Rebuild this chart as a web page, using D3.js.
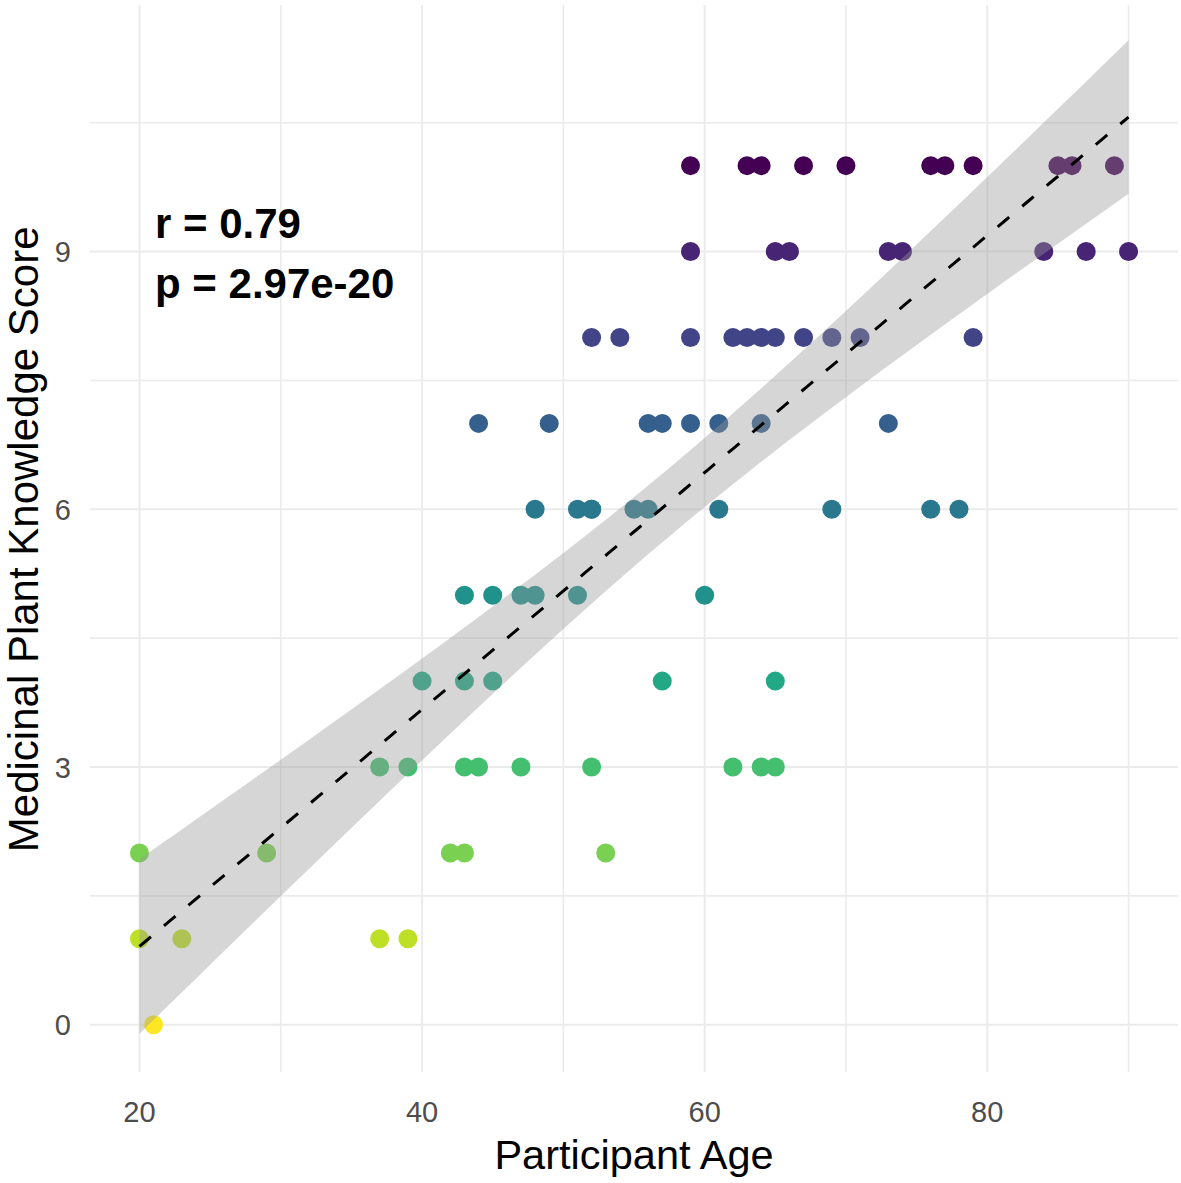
<!DOCTYPE html>
<html>
<head>
<meta charset="utf-8">
<script src="https://cdn.jsdelivr.net/npm/d3@7"></script>
<style>
  body { margin: 0; background: #fff; }
  text { font-family: "Liberation Sans", Arial, sans-serif; }
</style>
</head>
<body>
<script>
// Participant ages, grouped by knowledge score
var score10 = [59, 63, 64, 67, 70, 76, 77, 79, 85, 86, 89];
var score9 = [59, 65, 66, 73, 74, 84, 87, 90];
var score8 = [52, 54, 59, 62, 63, 64, 65, 67, 69, 71, 79];
var score7 = [44, 49, 56, 57, 59, 61, 64, 73];
var score6 = [48, 51, 52, 52, 55, 56, 61, 69, 76, 78];
var score5 = [43, 45, 47, 48, 51, 60];
var score4 = [40, 43, 45, 57, 65];
var score3 = [37, 39, 43, 44, 47, 52, 62, 64, 65];
var score2 = [20, 29, 42, 43, 53];
var score1 = [20, 23, 37, 39];
var score0 = [21];

var scoreLevels = [10, 9, 8, 7, 6, 5, 4, 3, 2, 1, 0];
var agesByLevel = [score10, score9, score8, score7, score6, score5, score4, score3, score2, score1, score0];

var xTicks = [20, 40, 60, 80];
var xMinor = [30, 50, 70, 90];
var yTicks = [0, 3, 6, 9];
var yMinor = [1.5, 4.5, 7.5, 10.5];

var statsLines = ["r = 0.79", "p = 2.97e-20"];
var tCrit = 1.99; // 95% t quantile, df = n - 2

var width = 1181,
    height = 1183;

var svg = d3.select("body")
    .append("svg")
    .attr("width", width)
    .attr("height", height);

// flatten to points
var points = [];
scoreLevels.forEach(function(s, i) {
    agesByLevel[i].forEach(function(a) { points.push({age: a, score: s}); });
});

var x = d3.scaleLinear()
    .domain([16.5, 93.5])
    .range([90, 1178]);

var y = d3.scaleLinear()
    .domain([-0.55, 11.87])
    .range([1072, 5]);

var color = d3.scaleSequential(d3.interpolateViridis)
    .domain([10, 0]);

// grid
var grid = svg.append("g");
grid.selectAll(".xmin").data(xMinor).enter().append("line")
    .attr("x1", function(d) { return x(d); })
    .attr("x2", function(d) { return x(d); })
    .attr("y1", y.range()[1]).attr("y2", y.range()[0])
    .attr("stroke", "#ebebeb").attr("stroke-width", 1.6);
grid.selectAll(".ymin").data(yMinor).enter().append("line")
    .attr("y1", function(d) { return y(d); })
    .attr("y2", function(d) { return y(d); })
    .attr("x1", x.range()[0]).attr("x2", x.range()[1])
    .attr("stroke", "#ebebeb").attr("stroke-width", 1.6);
grid.selectAll(".xmaj").data(xTicks).enter().append("line")
    .attr("x1", function(d) { return x(d); })
    .attr("x2", function(d) { return x(d); })
    .attr("y1", y.range()[1]).attr("y2", y.range()[0])
    .attr("stroke", "#ebebeb").attr("stroke-width", 2);
grid.selectAll(".ymaj").data(yTicks).enter().append("line")
    .attr("y1", function(d) { return y(d); })
    .attr("y2", function(d) { return y(d); })
    .attr("x1", x.range()[0]).attr("x2", x.range()[1])
    .attr("stroke", "#ebebeb").attr("stroke-width", 2);

// points
svg.append("g")
    .selectAll("circle")
    .data(points)
    .enter().append("circle")
        .attr("cx", function(d) { return x(d.age); })
        .attr("cy", function(d) { return y(d.score); })
        .attr("r", 9.5)
        .attr("fill", function(d) { return color(d.score); });

// linear fit + 95% confidence band
var n = points.length,
    xbar = d3.mean(points, function(d) { return d.age; }),
    ybar = d3.mean(points, function(d) { return d.score; }),
    sxx = d3.sum(points, function(d) { return (d.age - xbar) * (d.age - xbar); }),
    sxy = d3.sum(points, function(d) { return (d.age - xbar) * (d.score - ybar); }),
    slope = sxy / sxx,
    icpt = ybar - slope * xbar,
    sse = d3.sum(points, function(d) { var r = d.score - (icpt + slope * d.age); return r * r; }),
    sigma = Math.sqrt(sse / (n - 2));

var xExt = d3.extent(points, function(d) { return d.age; });
var fit = d3.range(0, 81).map(function(i) {
    var xv = xExt[0] + (xExt[1] - xExt[0]) * i / 80;
    var yv = icpt + slope * xv;
    var se = sigma * Math.sqrt(1 / n + (xv - xbar) * (xv - xbar) / sxx);
    return {x: xv, y: yv, lo: yv - tCrit * se, hi: yv + tCrit * se};
});

svg.append("path")
    .datum(fit)
    .attr("fill", "#999999")
    .attr("fill-opacity", 0.4)
    .attr("d", d3.area()
        .x(function(d) { return x(d.x); })
        .y0(function(d) { return y(d.lo); })
        .y1(function(d) { return y(d.hi); }));

svg.append("path")
    .datum(fit)
    .attr("fill", "none")
    .attr("stroke", "#000")
    .attr("stroke-width", 3)
    .attr("stroke-dasharray", "15,17")
    .attr("d", d3.line()
        .x(function(d) { return x(d.x); })
        .y(function(d) { return y(d.y); }));

// r / p annotation
svg.append("g").selectAll("text")
    .data(statsLines)
    .enter().append("text")
        .attr("x", 155)
        .attr("y", function(d, i) { return 238 + i * 60; })
        .attr("font-size", 42)
        .attr("font-weight", "bold")
        .attr("fill", "#000")
        .text(function(d) { return d; });

// tick labels
svg.append("g").selectAll("text")
    .data(xTicks)
    .enter().append("text")
        .attr("x", function(d) { return x(d); })
        .attr("y", 1122)
        .attr("text-anchor", "middle")
        .attr("font-size", 29)
        .attr("fill", "#4d4d4d")
        .text(function(d) { return d; });

svg.append("g").selectAll("text")
    .data(yTicks)
    .enter().append("text")
        .attr("x", 71)
        .attr("y", function(d) { return y(d) + 10.5; })
        .attr("text-anchor", "end")
        .attr("font-size", 29)
        .attr("fill", "#4d4d4d")
        .text(function(d) { return d; });

// axis titles
svg.append("text")
    .attr("x", x(55))
    .attr("y", 1169)
    .attr("text-anchor", "middle")
    .attr("font-size", 41.5)
    .attr("fill", "#000")
    .text("Participant Age");

svg.append("text")
    .attr("transform", "translate(38," + y(5.65) + ") rotate(-90)")
    .attr("text-anchor", "middle")
    .attr("font-size", 42)
    .attr("fill", "#000")
    .text("Medicinal Plant Knowledge Score");
</script>
</body>
</html>
